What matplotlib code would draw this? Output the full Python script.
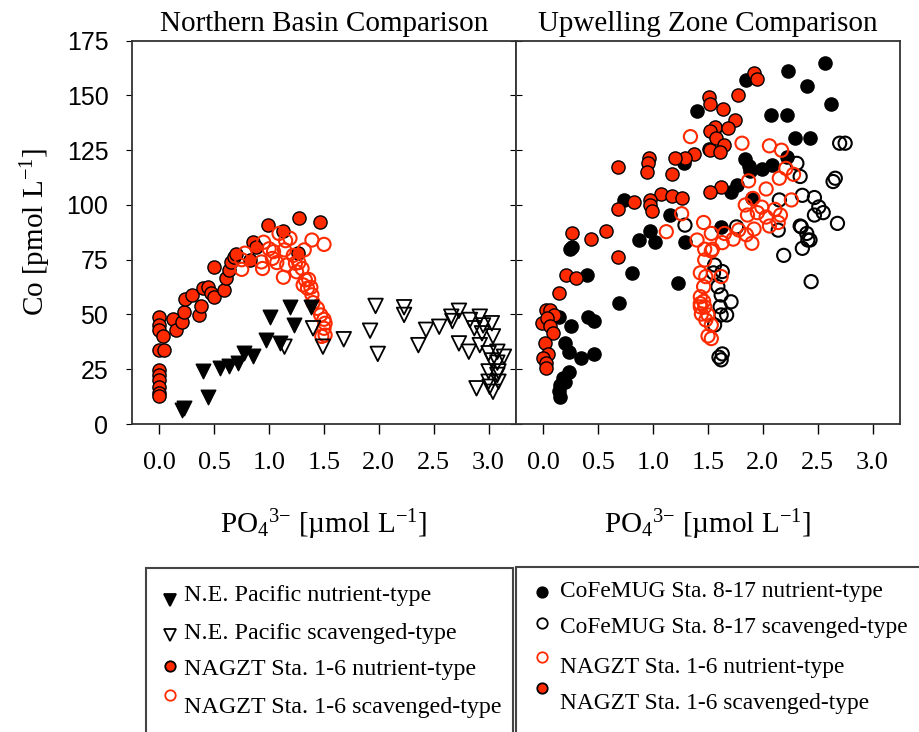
import matplotlib
matplotlib.use('Agg')
import matplotlib.pyplot as plt
from matplotlib.lines import Line2D
from matplotlib.patches import Rectangle

plt.rcParams['font.family'] = ['Liberation Serif', 'DejaVu Serif']
plt.rcParams['mathtext.fontset'] = 'custom'
plt.rcParams['mathtext.rm'] = 'Liberation Serif'
plt.rcParams['mathtext.it'] = 'Liberation Serif:italic'

RED = '#ff2a00'

# ---- Northern Basin (left panel) ----
nep_nut_x = [0.21, 0.22, 0.40, 0.44, 0.55, 0.63, 0.72, 0.77, 0.85, 0.97, 1.01, 1.10, 1.19, 1.23, 1.38]
nep_nut_y = [6.4, 7.5, 24, 12.5, 25.4, 26.5, 28, 32.6, 31, 38.4, 48.7, 37, 53.3, 45, 53.3]

nep_scav_x = [1.14, 1.40, 1.49, 1.68, 1.92, 1.97, 1.99, 2.23, 2.23, 2.36, 2.43, 2.55, 2.66, 2.67,
              2.73, 2.73, 2.82, 2.83, 2.87, 2.89, 2.92, 2.94, 2.95, 2.92, 3.03, 3.04, 3.00, 3.08,
              3.14, 3.03, 3.08, 3.00, 3.09, 3.08, 3.00, 3.09, 3.04, 3.01]
nep_scav_y = [35.3, 43.7, 35.3, 38.7, 42.6, 53.9, 32, 53.3, 49.8, 36, 43, 44.4, 49, 47,
              51.7, 36.8, 33, 47.5, 43.7, 16.3, 49, 41.4, 45, 36, 46, 40, 32.3, 33,
              30.7, 29, 28, 24, 24, 22.4, 19.3, 19.3, 14.7, 17]

nb_nagzt_nut_x = [0.0, 0.0, 0.0, 0.03, 0.0, 0.04, 0.0, 0.0, 0.0, 0.0, 0.0, 0.0,
                  0.12, 0.15, 0.21, 0.22, 0.23, 0.30, 0.36, 0.38, 0.40, 0.44, 0.47, 0.50,
                  0.50, 0.59, 0.61, 0.63, 0.65, 0.68, 0.70, 0.83, 0.85, 0.88, 0.99, 1.13,
                  1.27, 1.46, 1.26]
nb_nagzt_nut_y = [49, 45.2, 43, 40, 33.8, 33.8, 24.7, 22.4, 20, 17, 14, 13,
                  47.8, 43, 46.7, 51, 57, 59, 49.8, 54, 62, 62.4, 59.7, 58,
                  71.8, 61, 66.5, 70.3, 74, 76.4, 77.6, 75, 83, 81, 91, 88,
                  94, 92, 78]

nb_nagzt_scav_x = [0.75, 0.75, 0.78, 0.93, 0.94, 0.95, 1.03, 1.04, 1.07, 1.09, 1.14, 1.15,
                   1.19, 1.13, 1.16, 1.22, 1.24, 1.27, 1.30, 1.25, 1.32, 1.39, 1.50, 1.33,
                   1.36, 1.31, 1.35, 1.38, 1.39, 1.40, 1.44, 1.47, 1.50, 1.51, 1.50, 1.51,
                   1.48, 1.00]
nb_nagzt_scav_y = [75, 70.6, 78, 74, 71, 83, 75.6, 78.7, 73.7, 87, 79.5, 83.7,
                   84.8, 67, 72.6, 77, 73.4, 73.7, 71, 69.5, 79.5, 84, 82, 65.8,
                   66, 63.5, 62, 62.4, 59, 55.4, 52.8, 49.8, 47.8, 46, 43.7, 40.6,
                   40, 80]

# ---- Upwelling Zone (right panel) ----
cof_nut_x = [2.57, 2.23, 2.40, 2.62, 2.07, 2.22, 1.85, 1.40, 2.29, 2.43, 2.22, 1.84, 1.87,
             1.99, 2.08, 1.88, 1.76, 1.71, 1.90, 1.56, 1.51, 1.28, 0.73, 1.15, 0.97, 0.87,
             1.02, 1.29, 1.62, 0.26, 0.24, 0.40, 0.81, 1.23, 0.69, 0.14, 0.41, 0.46, 0.25,
             0.20, 0.23, 0.34, 0.46, 0.23, 0.18, 0.15, 0.14, 0.15, 0.20]
cof_nut_y = [165, 161.3, 154.3, 146, 141, 141, 157, 143, 130.4, 130.4, 122, 120.9, 118,
             116.3, 118.3, 115.6, 109, 106, 103, 135, 125.4, 119, 102.3, 95.4, 88.3, 84,
             83, 83, 90, 81, 79.8, 68, 69, 64.2, 55.1, 49, 48.7, 47, 44.7,
             37.1, 33, 30, 31.9, 23.9, 21, 17.9, 15, 12.2, 19]

cof_scav_x = [2.70, 2.75, 2.31, 2.34, 2.66, 2.64, 2.15, 2.36, 2.47, 2.51, 2.55, 2.47, 2.68,
              2.34, 2.40, 2.41, 2.14, 1.29, 1.76, 2.35, 2.43, 2.36, 2.19, 2.44, 1.56,
              1.63, 1.59, 1.62, 1.71, 1.61, 1.67, 1.62, 1.56, 1.63, 1.62, 1.60, 1.55]
cof_scav_y = [128.2, 128.2, 119, 113, 112.2, 110.7, 102.3, 104.4, 103.4, 99.1, 96.5, 95.4, 91.6,
              90.4, 87, 84, 88.5, 90.8, 90, 90, 84, 80.2, 77, 65, 72.6,
              69.6, 62.7, 58.9, 55.8, 53.5, 49.8, 49.8, 45.2, 32, 29.3, 30.5, 69]

uz_nagzt_nut_x = [1.92, 1.95, 1.77, 1.51, 1.52, 1.64, 1.75, 1.56, 1.52, 1.68, 1.57, 1.65,
                  1.52, 1.61, 1.37, 1.29, 1.20, 0.96, 0.95, 0.94, 1.17, 0.68, 1.62, 1.52,
                  1.07, 1.17, 1.26, 0.83, 0.97, 0.97, 0.99, 0.68, 0.26, 0.43, 0.57, 0.68,
                  0.14, 0.21, 0.30, 0.02, 0.06, 0.10, -0.01, 0.03, 0.06, 0.09, 0.01, 0.04,
                  0.0, 0.02, 0.02]
uz_nagzt_nut_y = [160.4, 157.4, 150.2, 149.5, 146, 144, 138.8, 135.5, 133.6, 135, 130.4, 127.4,
                  125, 124.4, 123.3, 121.3, 121.3, 121.3, 119, 115, 114, 117.2, 108.4, 106,
                  105, 104, 103.4, 101.5, 102.3, 100, 97.3, 98, 87.4, 84.3, 88.3, 76.1,
                  60, 68, 66.7, 52, 52, 49.7, 46, 48.3, 44.7, 41.7, 36.8, 31.9,
                  30, 27.7, 25.4]

uz_nagzt_scav_x = [1.34, 1.81, 2.06, 2.17, 2.21, 2.28, 2.15, 2.03, 1.87, 2.26, 1.84, 1.91,
                   1.99, 1.95, 2.11, 2.03, 2.16, 2.14, 2.06, 1.86, 1.92, 1.85, 1.78, 1.73,
                   1.65, 1.53, 1.46, 1.63, 1.40, 1.12, 1.26, 1.90, 1.54, 1.47, 1.53, 1.47,
                   1.43, 1.48, 1.62, 1.46, 1.43, 1.46, 1.43, 1.47, 1.44, 1.50, 1.48, 1.53,
                   1.50, 1.53, 1.43]
uz_nagzt_scav_y = [131.2, 128.2, 127, 125, 116.7, 114, 112.2, 107.3, 111, 102.3, 100, 103,
                   99, 96.5, 98, 94.5, 95.4, 92, 90.4, 95.4, 89, 86.4, 88.6, 84.4,
                   87, 87, 92, 82.8, 84, 87.8, 96, 82.5, 79.8, 79.8, 79, 74.9,
                   69, 67.3, 67.3, 62.7, 58.1, 56, 53.5, 53.5, 50.2, 49.8, 47.5, 45.2,
                   40.2, 39, 55]

x_ticks = [0.0, 0.5, 1.0, 1.5, 2.0, 2.5, 3.0]
y_ticks = [0, 25, 50, 75, 100, 125, 150, 175]

fig = plt.figure(figsize=(9.19, 7.32), dpi=100)
ax1 = fig.add_axes([132 / 919, 1 - 424 / 732, 384 / 919, 383.3 / 732])
ax2 = fig.add_axes([516 / 919, 1 - 424 / 732, 384 / 919, 383.3 / 732])

ms = 90
ax1.scatter(nb_nagzt_nut_x, nb_nagzt_nut_y, s=ms, c=RED, edgecolors='k', linewidths=1.0, zorder=3)
ax1.scatter(nb_nagzt_scav_x, nb_nagzt_scav_y, s=ms, facecolors='none', edgecolors=RED, linewidths=1.5, zorder=3)
ax1.scatter(nep_nut_x, nep_nut_y, s=110, marker='v', c='k', edgecolors='k', zorder=3)
ax1.scatter(nep_scav_x, nep_scav_y, s=110, marker='v', facecolors='none', edgecolors='k', linewidths=1.3, zorder=3)

ax2.scatter(cof_nut_x, cof_nut_y, s=ms, c='k', edgecolors='k', zorder=3)
ax2.scatter(cof_scav_x, cof_scav_y, s=ms, facecolors='none', edgecolors='k', linewidths=1.5, zorder=3)
ax2.scatter(uz_nagzt_nut_x, uz_nagzt_nut_y, s=ms, c=RED, edgecolors='k', linewidths=1.0, zorder=3)
ax2.scatter(uz_nagzt_scav_x, uz_nagzt_scav_y, s=ms, facecolors='none', edgecolors=RED, linewidths=1.5, zorder=3)

for ax in (ax1, ax2):
    ax.set_xlim(-0.25, 3.25)
    ax.set_ylim(0, 175)
    ax.set_xticks(x_ticks)
    ax.set_xticklabels([f'{v:.1f}' for v in x_ticks], fontsize=19)
    ax.set_yticks(y_ticks)
    ax.tick_params(axis='x', direction='out', length=7, width=1, pad=13)
    for s in ax.spines.values():
        s.set_linewidth(1.3)
        s.set_color('#333333')
    ax.set_xlabel(r'PO$_\mathrm{4}$$^{\mathrm{3{-}}}$ [µmol L$^{\mathrm{{-}1}}$]', fontsize=21, labelpad=24)

ax1.set_yticklabels([str(v) for v in y_ticks], family=['Liberation Sans'], fontsize=18)
ax1.tick_params(axis='y', which='both', left=True, right=True, direction='out', length=4, pad=13)
for t in ax1.yaxis.get_ticklines()[1::2]:
    t.set_marker(0)  # right ticks point inward
ax2.tick_params(axis='y', left=True, right=False, labelleft=False, direction='in', length=4)

ax1.set_ylabel(r'Co [pmol L$^{\mathrm{{-}1}}$]', fontsize=21, labelpad=10)
ax1.set_title('Northern Basin Comparison', fontsize=21, pad=7)
ax2.set_title('Upwelling Zone Comparison', fontsize=21, pad=7)

# legend boxes
W, H = 919, 732
def fx(p):
    return p / W

def fy(p):
    return 1 - p / H

fig.add_artist(Rectangle((fx(146), fy(770)), (513 - 146) / W, (770 - 568) / H, transform=fig.transFigure,
                         fill=False, edgecolor='#444444', linewidth=1.5, clip_on=False))
fig.add_artist(Rectangle((fx(516), fy(770)), (940 - 516) / W, (770 - 567) / H, transform=fig.transFigure,
                         fill=False, edgecolor='#444444', linewidth=1.5, clip_on=False))

left_leg = [
    ('v', 'k', 'k', 600, 595, 'N.E. Pacific nutrient-type'),
    ('v', 'none', 'k', 635, 633, 'N.E. Pacific scavenged-type'),
    ('o', RED, 'k', 666, 670, 'NAGZT Sta. 1-6 nutrient-type'),
    ('o', 'none', RED, 695, 707, 'NAGZT Sta. 1-6 scavenged-type'),
]
for mk, fc, ec, my, ty, label in left_leg:
    fig.add_artist(Line2D([fx(170)], [fy(my)], marker=mk, markersize=8 if mk == 'v' else 7.5,
                          markerfacecolor=fc, markeredgecolor=ec, markeredgewidth=1.3,
                          linestyle='none', transform=fig.transFigure))
    fig.text(fx(184), fy(ty), label, fontsize=17.3, va='center', ha='left')

right_leg = [
    ('o', 'k', 'k', 592, 592, 'CoFeMUG Sta. 8-17 nutrient-type'),
    ('o', 'none', 'k', 623, 628, 'CoFeMUG Sta. 8-17 scavenged-type'),
    ('o', 'none', RED, 657, 667, 'NAGZT Sta. 1-6 nutrient-type'),
    ('o', RED, 'k', 688, 703, 'NAGZT Sta. 1-6 scavenged-type'),
]
for mk, fc, ec, my, ty, label in right_leg:
    fig.add_artist(Line2D([fx(542)], [fy(my)], marker=mk, markersize=7.5,
                          markerfacecolor=fc, markeredgecolor=ec, markeredgewidth=1.3,
                          linestyle='none', transform=fig.transFigure))
    fig.text(fx(560), fy(ty), label, fontsize=16.8, va='center', ha='left')

fig.savefig('out.png', dpi=100)
